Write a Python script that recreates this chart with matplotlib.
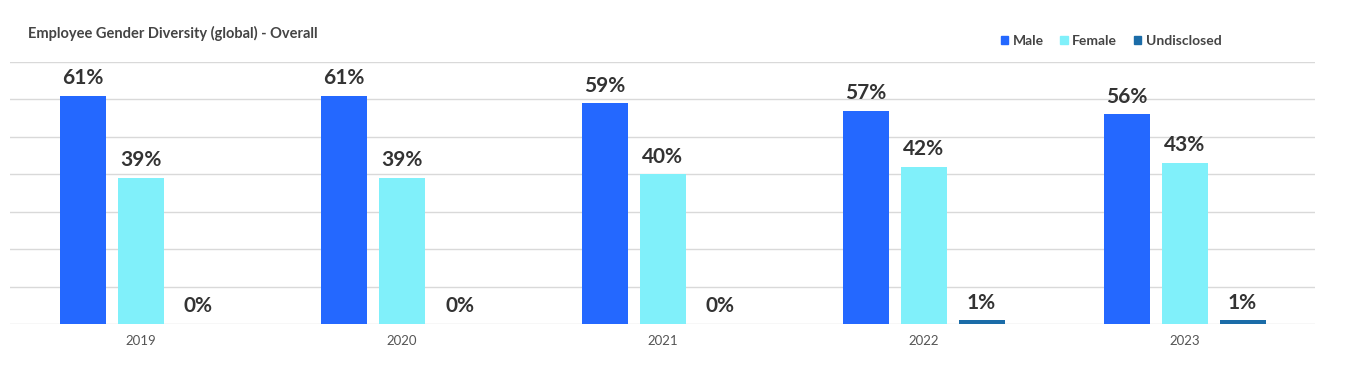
import matplotlib
matplotlib.use("Agg")
import matplotlib.pyplot as plt
import numpy as np
from matplotlib.patches import Patch

years = ["2019", "2020", "2021", "2022", "2023"]
male = [61, 61, 59, 57, 56]
female = [39, 39, 40, 42, 43]
undisclosed = [0, 0, 0, 1, 1]
series_names = ["Male", "Female", "Undisclosed"]
colors = ["#2468FF", "#80F0FA", "#1B6CA8"]

plt.rcParams['font.family'] = ['Lato', 'DejaVu Sans']

fig = plt.figure(figsize=(13.45, 3.81), dpi=100)
ax = fig.add_axes([10/1345, 1 - 324/381, 1305/1345, (324-62)/381])

x = np.arange(len(years))
w = 46/261
step = 58/261
for i, (vals, c) in enumerate(zip([male, female, undisclosed], colors)):
    pos = x + (i - 1) * step
    ax.bar(pos, vals, width=w, color=c, zorder=3)
    for p, v in zip(pos, vals):
        ax.annotate(f"{v}%", (p, v), xytext=(0, 5.5), textcoords="offset points",
                    ha="center", va="bottom", fontsize=15, fontweight="bold",
                    color="#333333")

ax.set_xlim(-0.5, len(years) - 0.5)
ax.set_ylim(0, 70)
ax.set_yticks(np.arange(0, 71, 10))
ax.set_yticklabels([])
ax.tick_params(axis="y", length=0)
ax.grid(axis="y", color="#d9d9d9", linewidth=1, zorder=0)
ax.set_xticks(x)
ax.set_xticklabels(years, fontsize=9.5, color="#555555")
ax.tick_params(axis="x", length=0, pad=8)
for s in ax.spines.values():
    s.set_visible(False)

fig.text(28/1345, 1 - 33/381, "Employee Gender Diversity (global) - Overall",
         fontsize=10.5, fontweight="bold", color="#444444", va="center", ha="left")

handles = [Patch(color=c) for c in colors]
leg = fig.legend(handles, series_names, loc="center", bbox_to_anchor=(1111/1345, 1 - 41/381),
                 ncol=3, frameon=False, handlelength=0.55, handleheight=0.55,
                 handletextpad=0.3, columnspacing=1.2,
                 prop={"size": 10, "weight": "bold"})
for t in leg.get_texts():
    t.set_color("#444444")

fig.savefig("out.png", dpi=100)
